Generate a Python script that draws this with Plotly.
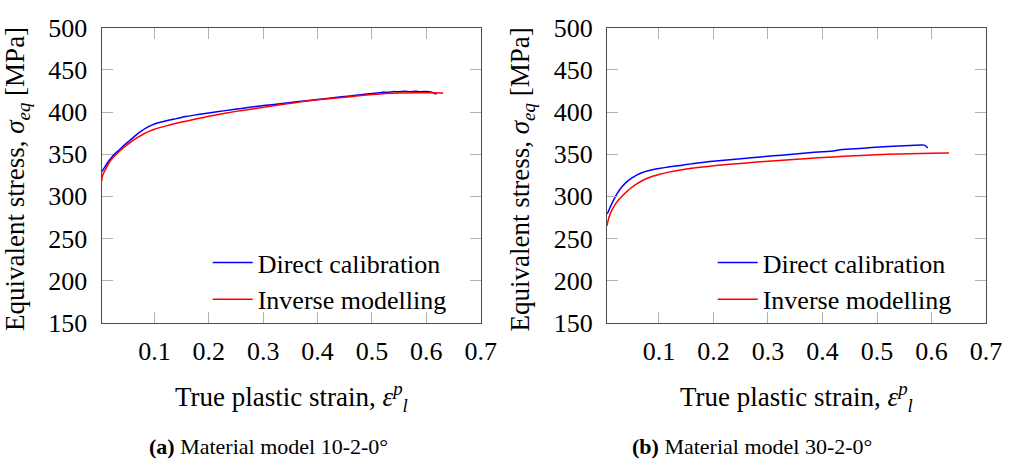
import plotly.graph_objects as go

# ---- Material model 10-2-0° ----
strain_direct_a = [0.003, 0.008, 0.015, 0.025, 0.035, 0.045, 0.055, 0.065, 0.075, 0.085,
                   0.095, 0.105, 0.12, 0.14, 0.16, 0.18, 0.20, 0.23, 0.26, 0.29,
                   0.32, 0.35, 0.38, 0.41, 0.44, 0.46, 0.48, 0.50, 0.51, 0.52,
                   0.53, 0.54, 0.55, 0.56, 0.57, 0.58, 0.59, 0.60, 0.61, 0.619]
stress_direct_a = [329, 334, 341, 349, 355, 361, 366.5, 372, 377, 381.2,
                   384.5, 387.0, 389.5, 392.2, 394.9, 397.0, 399.0, 401.7, 404.3, 406.8,
                   409.1, 411.4, 413.5, 415.6, 417.8, 419.2, 420.6, 422.0, 422.6, 423.6,
                   423.4, 424.4, 424.0, 424.8, 424.2, 424.6, 424.0, 424.5, 423.6, 421.2]

strain_inverse_a = [0.003, 0.004, 0.006, 0.01, 0.015, 0.02, 0.03, 0.04, 0.05, 0.06,
                    0.07, 0.08, 0.09, 0.10, 0.12, 0.14, 0.16, 0.18, 0.20, 0.22,
                    0.25, 0.28, 0.31, 0.34, 0.37, 0.40, 0.43, 0.46, 0.49, 0.52,
                    0.55, 0.58, 0.61, 0.631]
stress_inverse_a = [318, 323, 327, 332, 338, 343, 350, 356, 361, 366,
                    370.3, 374.0, 377.0, 379.5, 383.3, 386.6, 389.5, 392.3, 395.0, 397.5,
                    400.8, 403.7, 406.5, 409.5, 412.2, 414.5, 416.5, 418.2, 420.2, 421.8,
                    422.5, 423.0, 422.8, 422.6]

# ---- Material model 30-2-0° ----
strain_direct_b = [0.005, 0.008, 0.012, 0.018, 0.025, 0.032, 0.04, 0.05, 0.06, 0.07,
                   0.08, 0.09, 0.10, 0.12, 0.14, 0.16, 0.19, 0.22, 0.25, 0.28,
                   0.31, 0.34, 0.37, 0.40, 0.42, 0.43, 0.46, 0.49, 0.52, 0.54,
                   0.56, 0.58, 0.587, 0.593]
stress_direct_b = [279, 283, 289, 297, 305, 311, 316.5, 321.5, 325.5, 328.3,
                   330.3, 331.8, 333.0, 335.0, 336.7, 338.5, 341.0, 342.8, 344.6, 346.3,
                   348.0, 349.7, 351.3, 353.0, 353.7, 355.0, 356.4, 357.8, 359.0, 359.8,
                   360.3, 361.0, 360.8, 357.5]

strain_inverse_b = [0.005, 0.006, 0.008, 0.011, 0.015, 0.02, 0.025, 0.03, 0.04, 0.05,
                    0.06, 0.07, 0.08, 0.09, 0.10, 0.12, 0.14, 0.16, 0.19, 0.22,
                    0.25, 0.28, 0.32, 0.36, 0.40, 0.44, 0.48, 0.52, 0.56, 0.60, 0.632]
stress_inverse_b = [265, 269, 274, 279.5, 285, 290.5, 295, 298.5, 305, 310.5,
                    315, 318.8, 321.8, 324.2, 326, 329, 331.3, 333.2, 335.5, 337.4,
                    339, 340.6, 342.6, 344.4, 346, 347.5, 348.7, 349.8, 350.6, 351.2, 351.5]

x_ticks = [0.1, 0.2, 0.3, 0.4, 0.5, 0.6, 0.7]
x_tick_labels = ["0.1", "0.2", "0.3", "0.4", "0.5", "0.6", "0.7"]
y_ticks = [150, 200, 250, 300, 350, 400, 450, 500]
y_tick_labels = ["150", "200", "250", "300", "350", "400", "450", "500"]

series_names = ["Direct calibration", "Inverse modelling"]
captions = ["Material model 10-2-0°", "Material model 30-2-0°"]
caption_tags = ["(a)", "(b)"]

FONT = "Liberation Serif"
BLUE = "#0000ff"
RED = "#ff0000"
W, H = 1026, 464

fig = go.Figure()

panels = [
    (strain_direct_a, stress_direct_a, strain_inverse_a, stress_inverse_a, "x", "y", "legend"),
    (strain_direct_b, stress_direct_b, strain_inverse_b, stress_inverse_b, "x2", "y2", "legend2"),
]
for sd, vd, si, vi, xa, ya, lg in panels:
    fig.add_trace(go.Scatter(x=sd, y=vd, mode="lines", name=series_names[0],
                             line=dict(color=BLUE, width=1.5, shape="spline", smoothing=0.6),
                             xaxis=xa, yaxis=ya, legend=lg))
    fig.add_trace(go.Scatter(x=si, y=vi, mode="lines", name=series_names[1],
                             line=dict(color=RED, width=1.5, shape="spline", smoothing=0.6),
                             xaxis=xa, yaxis=ya, legend=lg))

# plot-area rectangles in pixels: (left, right)
plot_x = [(103.3, 488.3), (616.7, 1001.7)]
plot_top, plot_bottom = 14.7, 329.3
y_dom = [1 - plot_bottom / H, 1 - plot_top / H]
x_min = [0.003, 0.005]

axis_common = dict(
    showgrid=False, zeroline=False, showline=True, linecolor="#4d4d4d", linewidth=1.3,
    mirror="ticks", ticks="inside", ticklen=11, tickwidth=1.3, tickcolor="#b3b3b3",
    tickfont=dict(family=FONT, size=26, color="black"),
)

for i, (xl, xr) in enumerate(plot_x):
    sfx = "" if i == 0 else str(i + 1)
    fig.update_layout(**{
        f"xaxis{sfx}": dict(axis_common, domain=[xl / W, xr / W], range=[x_min[i], 0.7],
                            tickvals=x_ticks, ticktext=x_tick_labels,
                            anchor=f"y{sfx}", ticklabelstandoff=5),
        f"yaxis{sfx}": dict(axis_common, domain=y_dom, range=[150, 500],
                            tickvals=y_ticks, ticktext=y_tick_labels,
                            anchor=f"x{sfx}", ticklabelstandoff=8),
    })

legend_common = dict(
    font=dict(family=FONT, size=26, color="black"), bgcolor="rgba(0,0,0,0)",
    borderwidth=0, xanchor="left", yanchor="top", tracegroupgap=0,
    itemwidth=40,
)
fig.update_layout(
    legend=dict(legend_common, x=211 / W, y=1 - 240 / H),
    legend2=dict(legend_common, x=724 / W, y=1 - 240 / H),
)

annotations = []
for i, (xl, xr) in enumerate(plot_x):
    cx = (xl + xr) / 2
    annotations.append(dict(
        text="True plastic strain, <i>ε</i><sup><i>p</i></sup><sub><i>l</i></sub>",
        x=cx / W, y=1 - 408 / H, xref="paper", yref="paper",
        xanchor="center", yanchor="middle", showarrow=False,
        font=dict(family=FONT, size=27, color="black")))
    annotations.append(dict(
        text="Equivalent stress, <i>σ</i><sub><i>eq</i></sub> [MPa]",
        x=(xl - 86) / W, y=1 - 176 / H, xref="paper", yref="paper",
        xanchor="center", yanchor="middle", textangle=-90, showarrow=False,
        font=dict(family=FONT, size=27, color="black")))
cap_cx = [272.5, 764]
for i in range(2):
    annotations.append(dict(
        text=f"<b>{caption_tags[i]}</b> {captions[i]}",
        x=cap_cx[i] / W, y=1 - 461 / H, xref="paper", yref="paper",
        xanchor="center", yanchor="middle", showarrow=False,
        font=dict(family=FONT, size=22, color="black")))

fig.update_layout(
    width=W, height=H, margin=dict(l=0, r=0, t=0, b=0),
    paper_bgcolor="white", plot_bgcolor="white",
    annotations=annotations, showlegend=True,
)

fig.write_html("out.html")
